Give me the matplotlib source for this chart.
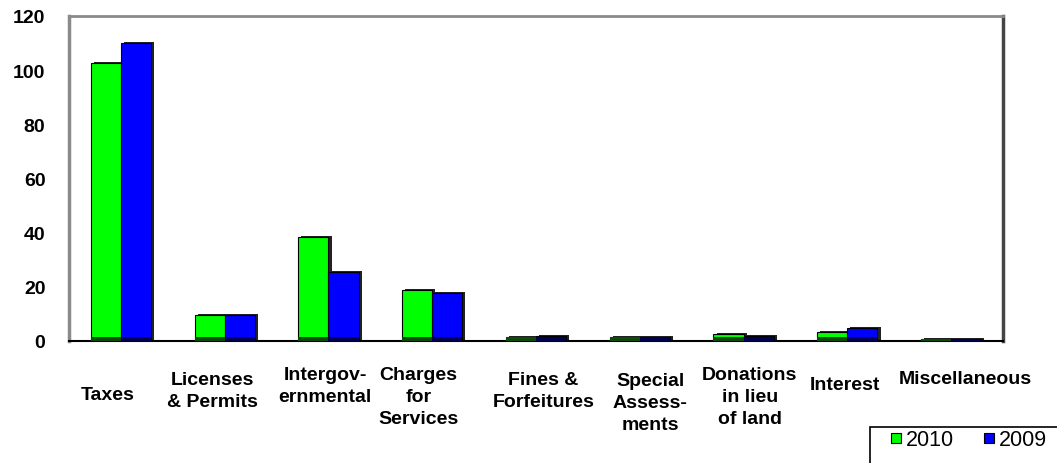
import matplotlib.pyplot as plt
import matplotlib.transforms as mtransforms
from matplotlib.patches import Rectangle
from matplotlib.lines import Line2D

plt.rcParams['font.family'] = ['Liberation Sans', 'DejaVu Sans']

# revenue by source
categories = ["Taxes", "Licenses\n& Permits", "Intergov-\nernmental", "Charges\nfor\nServices",
              "Fines &\nForfeitures", "Special\nAssess-\nments", "Donations\nin lieu\nof land",
              "Interest", "Miscellaneous"]
vals_2010 = [102.5, 9.5, 38.5, 18.8, 1.5, 1.5, 2.6, 3.2, 0.6]
vals_2009 = [110.0, 9.5, 25.6, 17.8, 2.0, 1.5, 1.8, 4.7, 0.6]

# label placement (x shift in category units, y of label centre in figure pixels)
label_dx = [-0.125, -0.115, -0.03, -0.135, 0.07, 0.1, 0.06, -0.02, 0.135]
label_y = [395, 391.5, 386.5, 397.5, 391.5, 403.5, 397.5, 385, 380]

W, H = 1057, 464
fig = plt.figure(figsize=(W / 100, H / 100), dpi=100)
ax = fig.add_axes([69 / W, 1 - 342 / H, (1003 - 69) / W, (342 - 17) / H])

x = list(range(len(categories)))
bw = 0.29
series = [(vals_2010, -bw / 2, '#00ff00', '#0b4a0b', '2010'),
          (vals_2009, bw / 2, '#0000ff', '#000050', '2009')]

for vals, off, col, dark, lab in series:
    xs = [i + off for i in x]
    # shadow on the right/top
    ax.bar([v + 0.03 for v in xs], [v + 0.4 for v in vals], width=bw, color='#222222',
           edgecolor='none', zorder=2)
    ax.bar(xs, vals, width=bw, color=col, edgecolor='black', linewidth=0.8, zorder=3)
    # dark floor band
    ax.bar(xs, [min(v, 1.4) for v in vals], width=bw, color=dark, edgecolor='none', zorder=4)

ax.set_xlim(-0.5, len(categories) - 0.5)
ax.set_ylim(0, 120)
ax.set_yticks(range(0, 121, 20))
ax.tick_params(axis='y', length=0, pad=17, labelsize=14)
for t in ax.get_yticklabels():
    t.set_fontweight('bold')
ax.set_xticks([])

ax.spines['left'].set_color('#8a8a8a')
ax.spines['left'].set_linewidth(2.5)
ax.spines['top'].set_color('#8a8a8a')
ax.spines['top'].set_linewidth(2)
ax.spines['right'].set_color('#444444')
ax.spines['right'].set_linewidth(2.5)
ax.spines['bottom'].set_color('black')
ax.spines['bottom'].set_linewidth(1.5)

trans = mtransforms.blended_transform_factory(ax.transData, fig.transFigure)
for i, lab in enumerate(categories):
    ax.text(i + label_dx[i], 1 - label_y[i] / H, lab, transform=trans, ha='center', va='center',
            fontsize=14, fontweight='bold', linespacing=1.4, clip_on=False)

# legend box running off the bottom edge
fig.patches.append(Rectangle((870 / W, -0.05), 0.2, 1 - 428 / H + 0.05, transform=fig.transFigure,
                             facecolor='white', edgecolor='black', linewidth=1.2))
handles = [Line2D([], [], marker='s', linestyle='none', markersize=7.5, markerfacecolor=c,
                  markeredgecolor='black', markeredgewidth=0.8) for c in ('#00ff00', '#0000ff')]
fig.legend(handles, ['2010', '2009'], loc='center left', bbox_to_anchor=(890 / W, 1 - 441 / H),
           ncol=2, frameon=False, handlelength=0.6, handletextpad=0.15, columnspacing=1.3,
           fontsize=15.5, borderpad=0, borderaxespad=0)

fig.savefig('out.png', dpi=100)
